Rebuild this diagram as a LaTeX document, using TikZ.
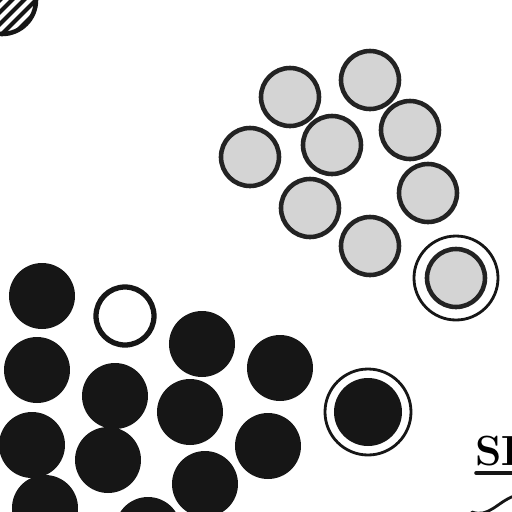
\documentclass[tikz,border=0pt]{standalone}
\usepackage{tikz}
\usetikzlibrary{positioning}
\definecolor{inkblack}{RGB}{22,22,22}
\definecolor{beadgray}{RGB}{212,212,212}
\definecolor{rimgray}{RGB}{35,35,35}
\tikzset{
  graybead/.style={fill=beadgray, draw=rimgray, line width=2.6pt},
  blackbead/.style={fill=inkblack, draw=inkblack, line width=.8pt},
  openbead/.style={fill=white, draw=inkblack, line width=3pt},
  ringline/.style={draw=inkblack, line width=1.6pt},
}
\begin{document}
\begin{tikzpicture}[x=.02cm, y=-.02cm, line cap=round, line join=round]
  \useasboundingbox (0,0) rectangle (512,512);
  \begin{scope}
    \clip (0,0) rectangle (512,512);

    % Hatched body in the upper left corner.
    \begin{scope}
      \clip (2,0) circle (34);
      \foreach \hx in {-40,-28,...,60}{%
        \draw[inkblack, line width=2.4pt] (\hx,40) -- (\hx+45,-5);
      }
    \end{scope}
    \draw[inkblack, line width=2.6pt] (2,0) circle (34);

    % Light particles (upper right cluster).
    \foreach \bx/\by in {290/97, 370/80, 250/157, 332/145, 410/130,
                         310/208, 428/193, 370/246}{%
      \draw[graybead] (\bx,\by) circle (29);
    }
    % Encapsulated light particle.
    \draw[ringline] (456,278) circle (42);
    \draw[graybead] (456,278) circle (29);

    % Dark particles (lower left cluster).
    \foreach \bx/\by in {42/296, 202/344, 280/368, 37/370, 115/396,
                         190/412, 268/446, 32/445, 108/460, 205/484,
                         45/508, 148/530}{%
      \fill[inkblack] (\bx,\by) circle (33);
    }
    \draw[openbead] (125,316) circle (29);
    % Encapsulated dark particle.
    \draw[ringline] (368,412) circle (43);
    \fill[inkblack] (368,412) circle (34);

    % Partial label and leader in the lower right corner.
    \node[anchor=base west, inner sep=0pt, font=\bfseries\fontsize{24}{24}\selectfont]
      (seclabel) at (475,465) {SI};
    \coordinate (underA) at (476,473);
    \coordinate (underB) at (520,473);
    \draw[inkblack, line width=2pt] (underA) -- (underB);
    \coordinate (leadA) at (472,512);
    \coordinate (leadB) at (514,496);
    \draw[inkblack, line width=1.6pt] (leadA) to[out=-20,in=200] (leadB);
  \end{scope}
\end{tikzpicture}
\end{document}
